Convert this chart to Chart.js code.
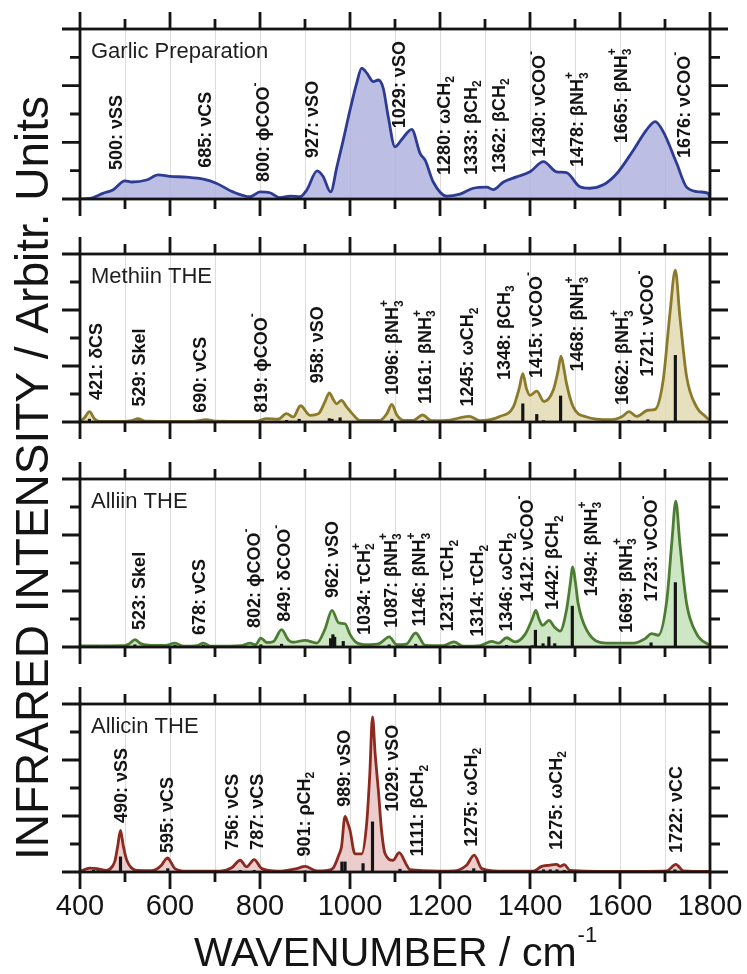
<!DOCTYPE html>
<html>
<head>
<meta charset="utf-8">
<script src="https://cdn.jsdelivr.net/npm/chart.js@4.4.0/dist/chart.umd.min.js"></script>
<style>
  html, body { margin: 0; padding: 0; background: #fff; }
  #wrap { position: relative; width: 747px; height: 974px; }
  #wrap canvas { position: absolute; left: 0; top: 0; }
</style>
</head>
<body>
<div id="wrap">
  <canvas id="garlic" width="747" height="974"></canvas>
  <canvas id="methiin" width="747" height="974"></canvas>
  <canvas id="alliin" width="747" height="974"></canvas>
  <canvas id="allicin" width="747" height="974"></canvas>
</div>
<script>
// wavenumber axis
const xTicks = [400, 600, 800, 1000, 1200, 1400, 1600, 1800];

// Garlic preparation (measured spectrum)
const garlicWn = [400, 422, 451, 473, 500, 515, 548, 574, 600, 637, 674, 704, 740, 778, 800, 822, 844, 867, 889, 904, 927, 940, 957, 971, 985, 1000, 1015, 1026, 1037, 1052, 1063, 1074, 1085, 1100, 1115, 1137, 1156, 1167, 1185, 1215, 1244, 1274, 1304, 1318, 1341, 1370, 1400, 1430, 1459, 1481, 1511, 1533, 1563, 1593, 1630, 1659, 1678, 1696, 1726, 1748, 1778, 1796, 1800];
const garlicIr = [0, 0.02, 0.2, 0.32, 0.64, 0.6, 0.67, 0.85, 0.8, 0.77, 0.7, 0.55, 0.25, 0.08, 0.25, 0.22, 0.05, 0.1, 0.08, 0.32, 0.99, 0.8, 0.25, 1.14, 2.08, 3.14, 4.1, 4.62, 4.45, 4.14, 4.2, 3.9, 2.9, 1.84, 2.1, 2.46, 1.6, 1.37, 0.6, 0.1, 0.17, 0.38, 0.42, 0.33, 0.6, 0.78, 0.96, 1.32, 0.96, 0.93, 0.43, 0.38, 0.5, 0.9, 1.73, 2.44, 2.73, 2.38, 1.26, 0.42, 0.25, 0.2, 0.02];
const garlicLabels = ['500: νSS', '685: νCS', '800: ϕCOO^-', '927: νSO', '1029: νSO', '1280: ωCH_2', '1333: βCH_2', '1362: βCH_2', '1430: νCOO^-', '1478: βNH_3^+', '1665: βNH_3^+', '1676: νCOO^-'];
const garlicLabelAt = [482, 680, 809, 918, 1111, 1211, 1271, 1333, 1422, 1507, 1604, 1744];
const garlicLabelY = [1.02, 1.1, 0.6, 1.45, 2.5, 0.85, 0.85, 0.92, 1.48, 1.13, 1.97, 1.45];

// Methiin THE
const methiinWn = [400, 410, 421, 432, 444, 500, 515, 529, 545, 650, 681, 700, 790, 815, 840, 859, 874, 890, 911, 930, 945, 954, 963, 970, 981, 992, 1005, 1022, 1067, 1082, 1093, 1104, 1120, 1141, 1161, 1181, 1222, 1244, 1265, 1289, 1333, 1363, 1376, 1384, 1392, 1400, 1415, 1431, 1452, 1462, 1469, 1476, 1481, 1496, 1526, 1578, 1605, 1620, 1637, 1662, 1678, 1696, 1711, 1723, 1733, 1748, 1770, 1790, 1800];
const methiinIr = [0.02, 0.15, 0.37, 0.12, 0.02, 0.02, 0.05, 0.12, 0.03, 0.02, 0.08, 0.03, 0.02, 0.12, 0.1, 0.3, 0.18, 0.58, 0.24, 0.3, 0.75, 1.04, 0.8, 0.65, 0.77, 0.55, 0.3, 0.06, 0.06, 0.3, 0.63, 0.25, 0.06, 0.06, 0.25, 0.05, 0.07, 0.15, 0.2, 0.05, 0.2, 0.54, 1.2, 1.73, 1.2, 0.95, 1.1, 0.73, 1.15, 1.8, 2.35, 1.85, 1.39, 0.54, 0.18, 0.08, 0.2, 0.37, 0.2, 0.42, 0.45, 1.5, 3.88, 5.42, 3.77, 1.62, 0.54, 0.2, 0.05];
const methiinStickWn = [421, 529, 859, 887, 954, 960, 978, 1093, 1161, 1384, 1415, 1430, 1468, 1620, 1662, 1723];
const methiinStickIr = [0.1, 0.04, 0.06, 0.1, 0.12, 0.1, 0.15, 0.1, 0.05, 0.65, 0.27, 0.05, 0.93, 0.06, 0.08, 2.38];
const methiinLabels = ['421: δCS', '529: Skel', '690: νCS', '819: ϕCOO^-', '958: νSO', '1096: βNH_3^+', '1161: βNH_3^+', '1245: ωCH_2', '1348: βCH_3', '1415: νCOO^-', '1468: βNH_3^+', '1662: βNH_3^+', '1721: νCOO^-'];
const methiinLabelAt = [437, 533, 669, 804, 929, 1096, 1169, 1263, 1344, 1416, 1507, 1607, 1662];
const methiinLabelY = [0.79, 0.55, 0.33, 0.33, 1.38, 0.96, 0.64, 0.55, 1.5, 1.57, 1.8, 0.61, 1.62];

// Alliin THE
const alliinWn = [400, 500, 510, 522, 535, 560, 590, 611, 630, 660, 674, 690, 760, 778, 790, 802, 815, 830, 848, 863, 874, 900, 926, 944, 960, 975, 989, 1000, 1015, 1037, 1065, 1087, 1104, 1125, 1146, 1167, 1207, 1231, 1252, 1289, 1315, 1330, 1348, 1367, 1389, 1405, 1413, 1420, 1428, 1442, 1455, 1467, 1481, 1489, 1495, 1501, 1507, 1526, 1570, 1630, 1656, 1670, 1685, 1704, 1715, 1724, 1733, 1748, 1770, 1800];
const alliinIr = [0.04, 0.05, 0.12, 0.26, 0.12, 0.06, 0.06, 0.14, 0.03, 0.05, 0.14, 0.03, 0.05, 0.14, 0.08, 0.32, 0.16, 0.2, 0.62, 0.25, 0.17, 0.24, 0.14, 0.62, 1.31, 0.86, 0.83, 0.45, 0.15, 0.08, 0.12, 0.36, 0.08, 0.1, 0.5, 0.06, 0.05, 0.18, 0.03, 0.05, 0.2, 0.14, 0.33, 0.18, 0.45, 1.0, 1.31, 1.0, 0.77, 0.95, 0.7, 0.57, 1.31, 2.2, 2.86, 2.3, 1.55, 0.6, 0.14, 0.14, 0.3, 0.48, 0.42, 1.67, 3.7, 5.21, 3.7, 1.55, 0.48, 0.04];
const alliinStickWn = [438, 522, 611, 674, 802, 848, 957, 962, 966, 985, 1087, 1146, 1231, 1348, 1405, 1412, 1429, 1442, 1455, 1494, 1669, 1723];
const alliinStickIr = [0.03, 0.08, 0.06, 0.06, 0.08, 0.1, 0.3, 0.44, 0.35, 0.2, 0.08, 0.1, 0.05, 0.06, 0.05, 0.6, 0.12, 0.36, 0.12, 1.46, 0.15, 2.3];
const alliinLabels = ['523: Skel', '678: νCS', '802: ϕCOO^-', '849: δCOO^-', '962: νSO', '1034: τCH_2^+', '1087: βNH_3^+', '1146: βNH_3^+', '1231: τCH_2', '1314: τCH_2', '1346: ωCH_2', '1412: νCOO^-', '1442: βCH_2', '1494: βNH_3^+', '1669: βNH_3^+', '1723: νCOO^-'];
const alliinLabelAt = [533, 667, 789, 856, 963, 1033, 1093, 1156, 1218, 1285, 1348, 1396, 1452, 1537, 1615, 1671];
const alliinLabelY = [0.61, 0.43, 0.68, 0.9, 1.75, 0.43, 0.68, 0.73, 0.55, 0.37, 0.55, 1.62, 1.32, 1.8, 0.5, 1.62];

// Allicin THE
const allicinWn = [400, 422, 437, 459, 472, 478, 484, 490, 496, 504, 526, 560, 581, 590, 595, 602, 611, 637, 711, 737, 756, 770, 787, 804, 840, 881, 900, 926, 950, 963, 975, 981, 989, 994, 1000, 1011, 1026, 1037, 1044, 1050, 1056, 1063, 1070, 1078, 1096, 1109, 1126, 1133, 1200, 1233, 1259, 1276, 1293, 1330, 1407, 1426, 1441, 1459, 1467, 1476, 1489, 1600, 1704, 1724, 1741, 1800];
const allicinIr = [0.02, 0.14, 0.12, 0.06, 0.2, 0.42, 0.95, 1.49, 0.95, 0.42, 0.06, 0.05, 0.24, 0.45, 0.5, 0.35, 0.12, 0.03, 0.03, 0.15, 0.42, 0.18, 0.44, 0.12, 0.03, 0.12, 0.2, 0.04, 0.06, 0.15, 0.6, 0.89, 1.99, 1.8, 1.49, 0.65, 0.65, 1.73, 3.5, 5.54, 4.2, 2.92, 1.5, 0.65, 0.42, 0.69, 0.24, 0.08, 0.03, 0.04, 0.24, 0.6, 0.12, 0.03, 0.03, 0.2, 0.24, 0.27, 0.2, 0.26, 0.06, 0.02, 0.04, 0.27, 0.04, 0.02];
const allicinStickWn = [430, 440, 490, 595, 756, 787, 900, 982, 989, 1029, 1050, 1111, 1260, 1275, 1300, 1430, 1445, 1460, 1476, 1722];
const allicinStickIr = [0.06, 0.05, 0.54, 0.12, 0.06, 0.06, 0.04, 0.36, 0.36, 0.3, 1.79, 0.1, 0.04, 0.12, 0.04, 0.08, 0.08, 0.08, 0.06, 0.08];
const allicinLabels = ['490: νSS', '595: νCS', '756: νCS', '787: νCS', '901: ρCH_2', '989: νSO', '1029: νSO', '1111: βCH_2', '1275: ωCH_2', '1275: ωCH_2', '1722: νCC'];
const allicinLabelAt = [493, 596, 741, 796, 900, 989, 1096, 1152, 1271, 1459, 1727];
const allicinLabelY = [1.75, 0.68, 0.79, 0.79, 0.55, 2.33, 2.15, 0.55, 0.9, 0.79, 0.68];

const FONT = '"Liberation Sans", Arial, Helvetica, sans-serif';
const INK = '#141414';

// draws "1478: βNH_3^+" style text, _ = subscript, ^ = superscript
function drawRich(ctx, str, size, weight) {
    const big = weight + ' ' + size + 'px ' + FONT;
    const small = weight + ' ' + Math.round(size * 0.68) + 'px ' + FONT;
    let pos = 0;
    let i = 0;
    while (i < str.length) {
        if (str[i] === '_' || str[i] === '^') {
            const start = pos;
            let w = 0;
            ctx.font = small;
            while (i < str.length && (str[i] === '_' || str[i] === '^')) {
                const ch = str[i + 1];
                const dy = str[i] === '_' ? size * 0.34 : -size * 0.48;
                ctx.fillText(ch, start, dy);
                w = Math.max(w, ctx.measureText(ch).width);
                i += 2;
            }
            pos = start + w;
        } else {
            let run = '';
            while (i < str.length && str[i] !== '_' && str[i] !== '^') {
                run += str[i];
                i++;
            }
            ctx.font = big;
            ctx.fillText(run, pos, 0);
            pos += ctx.measureText(run).width;
        }
    }
    return pos;
}

function makePanel(id, cfg) {
    const decor = {
        id: 'decor_' + id,
        afterDatasetsDraw(chart) {
            const ctx = chart.ctx;
            const a = chart.chartArea;
            const x = chart.scales.x;
            const y = chart.scales.y;
            ctx.save();
            // peak labels
            ctx.fillStyle = INK;
            ctx.textBaseline = 'middle';
            ctx.textAlign = 'left';
            cfg.labels.forEach((txt, i) => {
                ctx.save();
                ctx.translate(x.getPixelForValue(cfg.labelAt[i]), y.getPixelForValue(cfg.labelY[i]));
                ctx.rotate(-Math.PI / 2);
                drawRich(ctx, txt, 18, 'bold');
                ctx.restore();
            });
            // panel title
            ctx.textBaseline = 'alphabetic';
            ctx.font = '22px ' + FONT;
            ctx.fillStyle = '#1e1e1e';
            ctx.fillText(cfg.title, a.left + 11, a.top + 29);

            // frame + ticks
            ctx.strokeStyle = INK;
            ctx.lineWidth = 2.8;
            ctx.strokeRect(a.left, a.top, a.right - a.left, a.bottom - a.top);
            ctx.beginPath();
            x.ticks.forEach(t => {
                const px = x.getPixelForValue(t.value);
                const len = t.value % 200 === 0 ? 17 : 10;
                ctx.moveTo(px, a.top);
                ctx.lineTo(px, a.top - len);
                ctx.moveTo(px, a.bottom);
                ctx.lineTo(px, a.bottom + len);
            });
            y.ticks.forEach(t => {
                const py = y.getPixelForValue(t.value);
                const len = t.value % 2 === 0 ? 18 : 10;
                ctx.moveTo(a.left, py);
                ctx.lineTo(a.left - len, py);
                ctx.moveTo(a.right, py);
                ctx.lineTo(a.right + len, py);
            });
            ctx.stroke();

            if (cfg.bottomAxis) {
                ctx.fillStyle = INK;
                ctx.textAlign = 'center';
                ctx.textBaseline = 'middle';
                ctx.font = '29px ' + FONT;
                x.ticks.forEach(t => {
                    if (xTicks.includes(t.value)) {
                        ctx.fillText(String(t.value), x.getPixelForValue(t.value), a.bottom + 35);
                    }
                });
                // x title with superscript
                ctx.textAlign = 'left';
                ctx.textBaseline = 'alphabetic';
                ctx.font = '41px ' + FONT;
                const main = 'WAVENUMBER / cm';
                const wMain = ctx.measureText(main).width;
                ctx.font = '22px ' + FONT;
                const wSup = ctx.measureText('-1').width;
                const x0 = (a.left + a.right) / 2 - (wMain + wSup) / 2;
                ctx.font = '41px ' + FONT;
                ctx.fillText(main, x0, a.bottom + 94);
                ctx.font = '22px ' + FONT;
                ctx.fillText('-1', x0 + wMain + 1, a.bottom + 70);
            }
            if (cfg.yTitle) {
                ctx.save();
                ctx.fillStyle = INK;
                ctx.translate(48, 478);
                ctx.rotate(-Math.PI / 2);
                ctx.textAlign = 'center';
                ctx.textBaseline = 'alphabetic';
                ctx.font = '46px ' + FONT;
                ctx.fillText(cfg.yTitle, 0, 0);
                ctx.restore();
            }
            ctx.restore();
        }
    };

    const datasets = [{
        type: 'line',
        data: cfg.wn.map((w, i) => ({ x: w, y: cfg.ir[i] })),
        borderColor: cfg.line,
        backgroundColor: cfg.fill,
        fill: 'origin',
        borderWidth: 2.8,
        pointRadius: 0,
        cubicInterpolationMode: 'monotone',
        order: 2
    }];
    if (cfg.stickWn) {
        datasets.push({
            type: 'bar',
            data: cfg.stickWn.map((w, i) => ({ x: w, y: cfg.stickIr[i] })),
            backgroundColor: INK,
            barThickness: 2.5,
            order: 1
        });
    }

    return new Chart(document.getElementById(id).getContext('2d'), {
        type: 'line',
        data: { datasets: datasets },
        options: {
            responsive: false,
            animation: false,
            events: [],
            layout: { padding: { left: 80, right: 37, top: cfg.top, bottom: 974 - cfg.bottom } },
            plugins: { legend: { display: false }, tooltip: { enabled: false } },
            scales: {
                x: {
                    type: 'linear', min: 400, max: 1800, offset: false,
                    ticks: { display: false, stepSize: 100 },
                    grid: { color: '#dcdcdc', lineWidth: 1, drawTicks: false, offset: false },
                    border: { display: false }
                },
                y: {
                    type: 'linear', min: 0, max: 6,
                    ticks: { display: false, stepSize: 1 },
                    grid: { display: false, drawTicks: false },
                    border: { display: false }
                }
            }
        },
        plugins: [decor]
    });
}

document.addEventListener('DOMContentLoaded', function() {
    makePanel('garlic', {
        top: 29, bottom: 199, title: 'Garlic Preparation',
        wn: garlicWn, ir: garlicIr,
        labels: garlicLabels, labelAt: garlicLabelAt, labelY: garlicLabelY,
        line: '#2d3b93', fill: 'rgba(176, 179, 222, 0.85)',
        yTitle: 'INFRARED INTENSITY / Arbitr. Units'
    });
    makePanel('methiin', {
        top: 254, bottom: 422, title: 'Methiin THE',
        wn: methiinWn, ir: methiinIr, stickWn: methiinStickWn, stickIr: methiinStickIr,
        labels: methiinLabels, labelAt: methiinLabelAt, labelY: methiinLabelY,
        line: '#8b7a2a', fill: 'rgba(226, 219, 180, 0.85)'
    });
    makePanel('alliin', {
        top: 479, bottom: 647, title: 'Alliin THE',
        wn: alliinWn, ir: alliinIr, stickWn: alliinStickWn, stickIr: alliinStickIr,
        labels: alliinLabels, labelAt: alliinLabelAt, labelY: alliinLabelY,
        line: '#4c7d33', fill: 'rgba(196, 226, 184, 0.85)'
    });
    makePanel('allicin', {
        top: 704, bottom: 872, title: 'Allicin THE',
        wn: allicinWn, ir: allicinIr, stickWn: allicinStickWn, stickIr: allicinStickIr,
        labels: allicinLabels, labelAt: allicinLabelAt, labelY: allicinLabelY,
        line: '#8c2a20', fill: 'rgba(232, 196, 196, 0.85)',
        bottomAxis: true
    });
});
</script>
</body>
</html>
